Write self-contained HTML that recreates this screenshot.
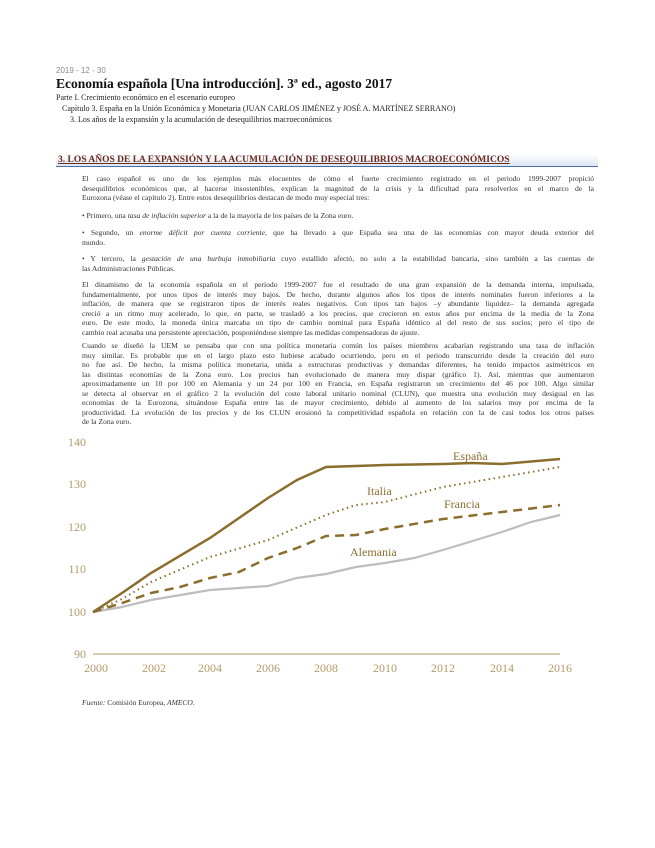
<!DOCTYPE html>
<html><head><meta charset="utf-8"><style>
body{margin:0;background:#fff;width:655px;height:848px;position:relative;font-family:"Liberation Serif",serif;color:#222;}
.a{position:absolute;white-space:nowrap;}
.p{position:absolute;left:82px;width:512px;font-size:7.6px;line-height:9.5px;color:#333;}
.p div{text-align:justify;text-align-last:justify;white-space:nowrap;height:9.5px;}
.p div.l{text-align-last:left;}
</style></head><body>
<div class="a" style="left:56px;top:66px;font:8px 'Liberation Sans',sans-serif;color:#888;">2019 - 12 - 30</div>
<div class="a" style="left:56px;top:76px;font-weight:bold;font-size:13.5px;color:#111;">Economía española [Una introducción]. 3ª ed., agosto 2017</div>
<div class="a" style="left:56px;top:93px;font-size:8px;">Parte I. Crecimiento económico en el escenario europeo</div>
<div class="a" style="left:62px;top:104px;font-size:8px;">Capítulo 3. España en la Unión Económica y Monetaria (JUAN CARLOS JIMÉNEZ y JOSÉ A. MARTÍNEZ SERRANO)</div>
<div class="a" style="left:70px;top:115px;font-size:8px;">3. Los años de la expansión y la acumulación de desequilibrios macroeconómicos</div>
<div class="a" style="left:56px;top:154px;width:542px;height:12px;background:linear-gradient(#fff,#dde6f2);border-bottom:1.5px solid #4a6fa5;"></div>
<div class="a" style="left:58px;top:155px;font-weight:bold;font-size:9.5px;color:#6b2a1e;text-decoration:underline;">3. LOS AÑOS DE LA EXPANSIÓN Y LA ACUMULACIÓN DE DESEQUILIBRIOS MACROECONÓMICOS</div>
<div class="p" style="top:174px;">
<div>El caso español es uno de los ejemplos más elocuentes de cómo el fuerte crecimiento registrado en el periodo 1999-2007 propició</div>
<div>desequilibrios económicos que, al hacerse insostenibles, explican la magnitud de la crisis y la dificultad para resolverlos en el marco de la</div>
<div class="l">Eurozona (véase el capítulo 2). Entre estos desequilibrios destacan de modo muy especial tres:</div>
</div>
<div class="p" style="top:211px;"><div class="l">• Primero, una <i>tasa de inflación superior</i> a la de la mayoría de los países de la Zona euro.</div></div>
<div class="p" style="top:228px;">
<div>• Segundo, un <i>enorme déficit por cuenta corriente</i>, que ha llevado a que España sea una de las economías con mayor deuda exterior del</div>
<div class="l">mundo.</div></div>
<div class="p" style="top:254px;">
<div>• Y tercero, la <i>gestación de una burbuja inmobiliaria</i> cuyo estallido afectó, no solo a la estabilidad bancaria, sino también a las cuentas de</div>
<div class="l">las Administraciones Públicas.</div></div>
<div class="p" style="top:280px;">
<div>El dinamismo de la economía española en el periodo 1999-2007 fue el resultado de una gran expansión de la demanda interna, impulsada,</div>
<div>fundamentalmente, por unos tipos de interés muy bajos. De hecho, durante algunos años los tipos de interés nominales fueron inferiores a la</div>
<div>inflación, de manera que se registraron tipos de interés reales negativos. Con tipos tan bajos –y abundante liquidez– la demanda agregada</div>
<div>creció a un ritmo muy acelerado, lo que, en parte, se trasladó a los precios, que crecieron en estos años por encima de la media de la Zona</div>
<div>euro. De este modo, la moneda única marcaba un tipo de cambio nominal para España idéntico al del resto de sus socios; pero el tipo de</div>
<div class="l">cambio real acusaba una persistente apreciación, posponiéndose siempre las medidas compensadoras de ajuste.</div>
</div>
<div class="p" style="top:341px;">
<div>Cuando se diseñó la UEM se pensaba que con una política monetaria común los países miembros acabarían registrando una tasa de inflación</div>
<div>muy similar. Es probable que en el largo plazo esto hubiese acabado ocurriendo, pero en el periodo transcurrido desde la creación del euro</div>
<div>no fue así. De hecho, la misma política monetaria, unida a estructuras productivas y demandas diferentes, ha tenido impactos asimétricos en</div>
<div>las distintas economías de la Zona euro. Los precios han evolucionado de manera muy dispar (gráfico 1). Así, mientras que aumentaron</div>
<div>aproximadamente un 10 por 100 en Alemania y un 24 por 100 en Francia, en España registraron un crecimiento del 46 por 100. Algo similar</div>
<div>se detecta al observar en el gráfico 2 la evolución del coste laboral unitario nominal (CLUN), que muestra una evolución muy desigual en las</div>
<div>economías de la Eurozona, situándose España entre las de mayor crecimiento, debido al aumento de los salarios muy por encima de la</div>
<div>productividad. La evolución de los precios y de los CLUN erosionó la competitividad española en relación con la de casi todos los otros países</div>
<div class="l">de la Zona euro.</div>
</div>
<svg class="a" style="left:0;top:0" width="655" height="848" font-family="Liberation Serif, serif">
<g font-size="12" fill="#b49a6a" text-anchor="end">
<text x="86" y="446">140</text><text x="86" y="488">130</text><text x="86" y="531">120</text><text x="86" y="573">110</text><text x="86" y="616">100</text><text x="86" y="658">90</text>
</g>
<line x1="93" y1="654" x2="560" y2="654" stroke="#b49a6a" stroke-width="1"/>
<g font-size="12" fill="#b49a6a" text-anchor="middle">
<text x="96" y="672">2000</text><text x="154" y="672">2002</text><text x="210" y="672">2004</text><text x="268" y="672">2006</text><text x="326" y="672">2008</text><text x="385" y="672">2010</text><text x="443" y="672">2012</text><text x="502" y="672">2014</text><text x="560" y="672">2016</text>
</g>
<polyline fill="none" stroke="#bdbdbd" stroke-width="2.2" points="93,612 122,607 151,600 210,590 268,586 297,578 326,574 356,567 385,563 414,558 443,550 502,532 531,522 560,515"/>
<polyline fill="none" stroke="#8b6d2e" stroke-width="2.5" stroke-dasharray="9,6" points="93,612 122,603 151,593 180,587 210,578 239,572 268,558 297,548 326,536 356,535 385,529 443,519 502,512 560,505"/>
<polyline fill="none" stroke="#8b6d2e" stroke-width="2" stroke-dasharray="1.5,3.5" points="93,612 122,599 151,582 210,557 268,540 326,515 356,505 385,502 443,487 502,477 560,467"/>
<polyline fill="none" stroke="#8b6d2e" stroke-width="2.5" points="93,612 122,593 151,573 210,538 268,498 297,480 326,467 385,465 443,464 472,463 502,464 560,459"/>
<g font-size="12" fill="#8b6d2e">
<text x="453" y="460">España</text><text x="367" y="495">Italia</text><text x="444" y="508">Francia</text><text x="350" y="556">Alemania</text>
</g>
</svg>
<div class="a" style="left:82px;top:698px;font-size:7.5px;color:#333;"><i>Fuente:</i> Comisión Europea, <i>AMECO</i>.</div>
</body></html>
